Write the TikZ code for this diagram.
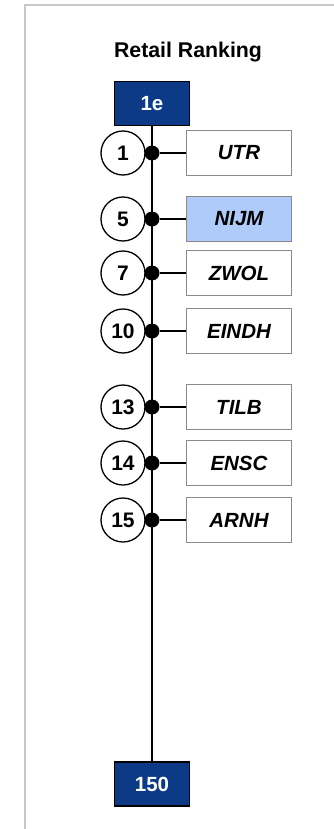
\documentclass[tikz,border=0pt]{standalone}
\usepackage{fontspec}
\setmainfont{Liberation Sans}
\definecolor{navy}{RGB}{12,58,134}
\definecolor{hl}{RGB}{174,203,250}
\definecolor{framegray}{RGB}{200,200,200}
\definecolor{boxgray}{RGB}{138,138,138}
\begin{document}
\begin{tikzpicture}[x=1pt,y=-1pt,
  endbox/.style={rectangle,draw=black,line width=1.8pt,fill=navy,text=white,
    minimum width=75pt,minimum height=44pt,inner sep=0pt,
    font=\bfseries\fontsize{20.5}{22}\selectfont},
  numcirc/.style={circle,draw=black,line width=1.3pt,fill=white,minimum size=44pt,inner sep=0pt,
    font=\bfseries\fontsize{21}{22}\selectfont},
  jdot/.style={circle,fill=black,minimum size=15pt,inner sep=0pt},
  citybox/.style={rectangle,draw=boxgray,line width=1.6pt,minimum width=105pt,minimum height=45pt,
    inner sep=0pt,font=\bfseries\itshape\fontsize{20.5}{22}\selectfont},
  axis/.style={line width=2pt,black},
  link/.style={line width=1.8pt,black}]
\useasboundingbox (0,0) rectangle (333,829);
\draw[framegray,line width=2pt] (25,845) -- (25,5) -- (345,5);
\node[font=\bfseries\fontsize{21.3}{24}\selectfont,anchor=base] (title) at (188,58) {Retail Ranking};
\node[endbox] (top) at (152,103.5) {1e};
\node[endbox] (bot) at (152,784) {150};
\draw[axis] (top.south) -- (bot.north);
\foreach \n/\y/\city/\col in {1/153/UTR/white,5/219/NIJM/hl,7/273/ZWOL/white,10/331/EINDH/white,13/407/TILB/white,14/463/ENSC/white,15/520/ARNH/white}{
  \node[numcirc] (c\n) at (123,\y) {\n};
  \node[jdot] (d\n) at (152,\y) {};
  \node[citybox,fill=\col] (b\n) at (239,\y) {\city};
  \draw[link] (d\n) -- (b\n);
}
\end{tikzpicture}
\end{document}
